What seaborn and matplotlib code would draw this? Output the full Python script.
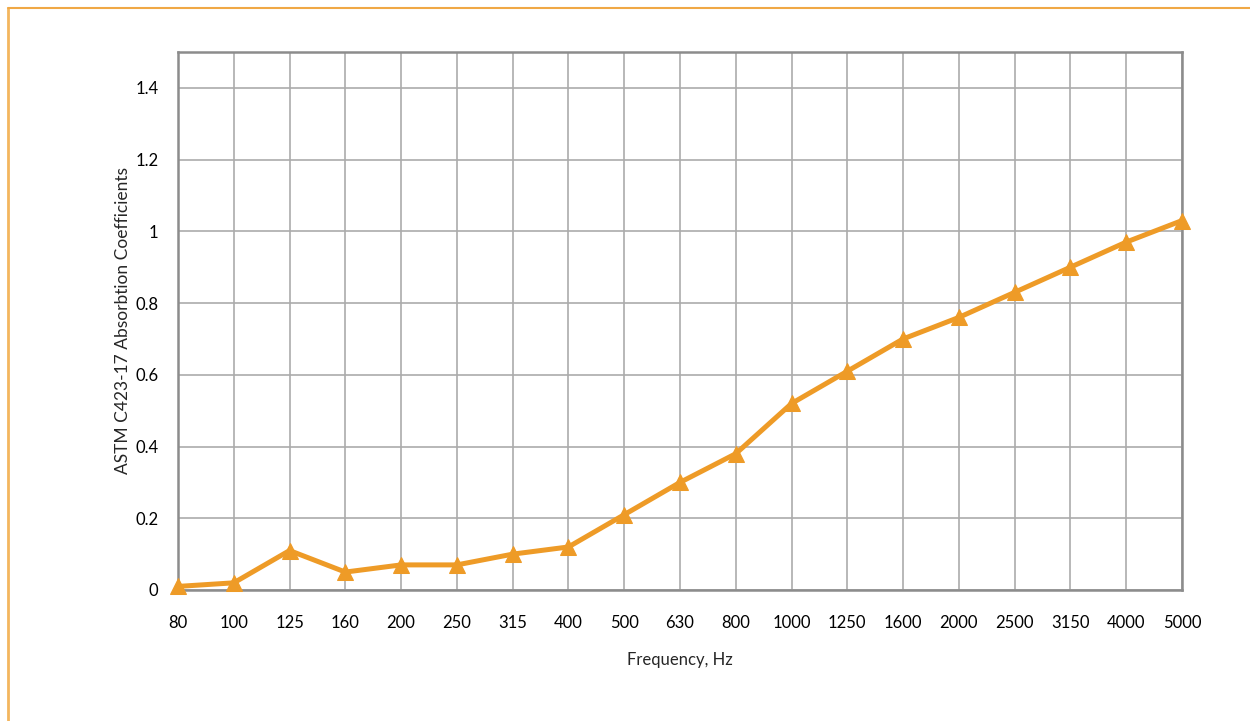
import numpy as np
import pandas as pd
import matplotlib
matplotlib.use("Agg")
import matplotlib.pyplot as plt
import seaborn as sns
from matplotlib.lines import Line2D

frequencies = ["80", "100", "125", "160", "200", "250", "315", "400", "500", "630",
               "800", "1000", "1250", "1600", "2000", "2500", "3150", "4000", "5000"]
coefficients = [0.01, 0.02, 0.11, 0.05, 0.07, 0.07, 0.10, 0.12, 0.21, 0.30,
                0.38, 0.52, 0.61, 0.70, 0.76, 0.83, 0.90, 0.97, 1.03]
y_ticks = [0, 0.2, 0.4, 0.6, 0.8, 1, 1.2, 1.4]
y_tick_labels = ["0", "0.2", "0.4", "0.6", "0.8", "1", "1.2", "1.4"]

sns.set_style("white")
plt.rcParams["font.family"] = ["Lato", "DejaVu Sans"]

df = pd.DataFrame({"freq": frequencies, "coef": coefficients})

fig = plt.figure(figsize=(12.5, 7.21), dpi=100)
ax = fig.add_axes([178 / 1250, 1 - 590 / 721, (1182 - 178) / 1250, (590 - 52) / 721])

line_color = "#EE9B27"
sns.lineplot(data=df, x="freq", y="coef", ax=ax, color=line_color, linewidth=3.6,
             marker="^", markersize=12, markeredgecolor=line_color, clip_on=False, zorder=5)

ax.set_xlim(0, len(frequencies) - 1)
ax.set_ylim(0, 1.5)
ax.set_xticks(range(len(frequencies)))
ax.set_xticklabels(frequencies)
ax.set_yticks(y_ticks)
ax.set_yticklabels(y_tick_labels)
ax.grid(True, color="#ABABAB", linewidth=1.2)
ax.set_axisbelow(True)
for s in ax.spines.values():
    s.set_visible(True)
    s.set_color("#8C8C8C")
    s.set_linewidth(1.8)
ax.tick_params(axis="both", length=0, labelsize=12, colors="black")
ax.tick_params(axis="x", pad=18)
ax.tick_params(axis="y", pad=14)
ax.set_xlabel("Frequency, Hz", fontsize=12, labelpad=15)
ax.set_ylabel("ASTM C423-17 Absorbtion Coefficients", fontsize=12.5, labelpad=3)

# outer frame (left and top edges)
fig.add_artist(Line2D([7.5 / 1250, 7.5 / 1250], [0, 1 - 7.5 / 721], transform=fig.transFigure,
                      color="#F3B65E", linewidth=2))
fig.add_artist(Line2D([7.5 / 1250, 1], [1 - 7.5 / 721, 1 - 7.5 / 721], transform=fig.transFigure,
                      color="#F0A845", linewidth=1.5))

fig.savefig("out.png", dpi=100)
